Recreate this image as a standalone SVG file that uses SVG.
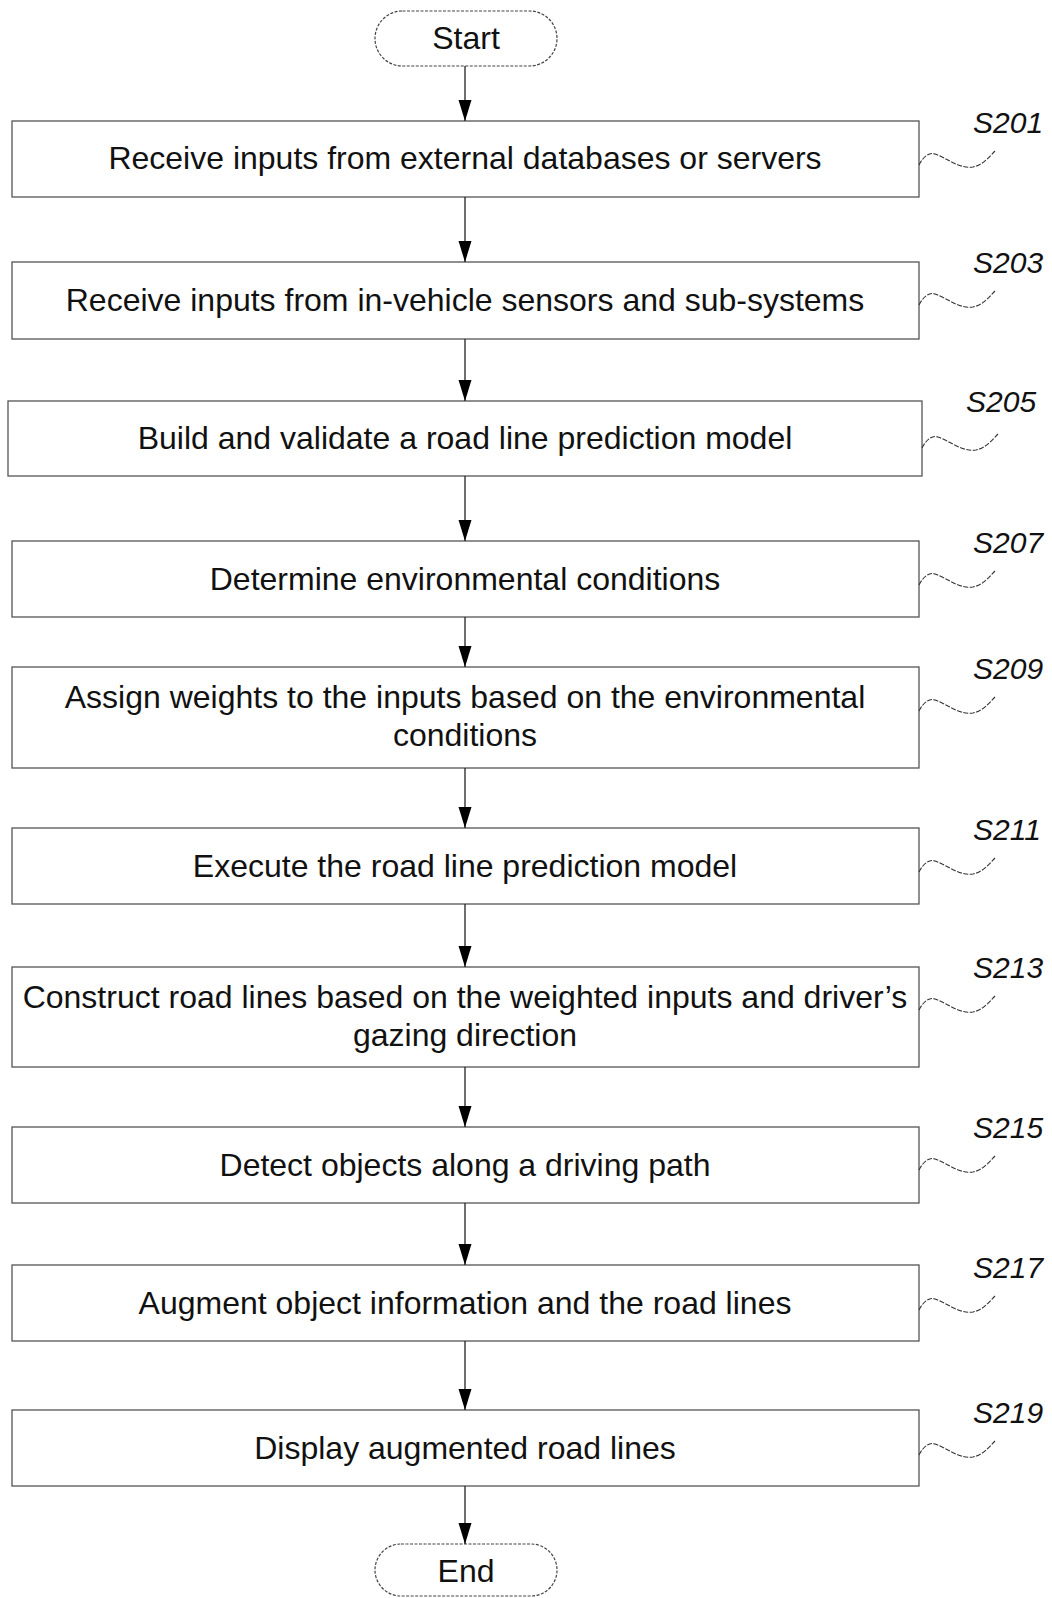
<svg xmlns="http://www.w3.org/2000/svg" width="1052" height="1598" viewBox="0 0 1052 1598">
<style>
.box{fill:#fff;stroke:#555;stroke-width:1.3}
.term{fill:#fff;stroke:#444;stroke-width:1.2;stroke-dasharray:3 1.5}
.t{font-family:"Liberation Sans",Arial,sans-serif;font-size:32px;fill:#111;text-anchor:middle}
.lbl{font-family:"Liberation Sans",Arial,sans-serif;font-size:30px;font-style:italic;fill:#111}
.sq{fill:none;stroke:#333;stroke-width:1.1;stroke-dasharray:5 1.5}
.conn line{stroke:#222;stroke-width:1.3}
</style>
<defs>
<marker id="ah" markerUnits="userSpaceOnUse" markerWidth="22" markerHeight="14" refX="21" refY="6.5" orient="auto">
<path d="M0,0 L21,6.5 L0,13 Z" fill="#000"/>
</marker>
<path id="squig" d="M0,32 C4,24 10,19 16,21 C28,25 40,36 54,34 C64,32 70,24 76,18"/>
</defs>

<g id="start"><rect class="term" x="375" y="11" width="182" height="55" rx="27.5"/><text class="t" x="466" y="49">Start</text></g>

<g id="s201"><rect class="box" x="12" y="121" width="907" height="76"/><text class="t" x="465" y="169">Receive inputs from external databases or servers</text>
<text class="lbl" x="973" y="133">S201</text><use href="#squig" class="sq" x="919" y="133"/></g>

<g id="s203"><rect class="box" x="12" y="262" width="907" height="77"/><text class="t" x="465" y="311">Receive inputs from in-vehicle sensors and sub-systems</text>
<text class="lbl" x="973" y="273">S203</text><use href="#squig" class="sq" x="919" y="273"/></g>

<g id="s205"><rect class="box" x="8" y="401" width="914" height="75"/><text class="t" x="465" y="449">Build and validate a road line prediction model</text>
<text class="lbl" x="966" y="412">S205</text><use href="#squig" class="sq" x="922" y="416"/></g>

<g id="s207"><rect class="box" x="12" y="541" width="907" height="76"/><text class="t" x="465" y="590">Determine environmental conditions</text>
<text class="lbl" x="973" y="553">S207</text><use href="#squig" class="sq" x="919" y="553"/></g>

<g id="s209"><rect class="box" x="12" y="667" width="907" height="101"/><text class="t" x="465" y="708">Assign weights to the inputs based on the environmental</text><text class="t" x="465" y="746">conditions</text>
<text class="lbl" x="973" y="679">S209</text><use href="#squig" class="sq" x="919" y="679"/></g>

<g id="s211"><rect class="box" x="12" y="828" width="907" height="76"/><text class="t" x="465" y="877">Execute the road line prediction model</text>
<text class="lbl" x="973" y="840">S211</text><use href="#squig" class="sq" x="919" y="840"/></g>

<g id="s213"><rect class="box" x="12" y="967" width="907" height="100"/><text class="t" x="465" y="1008">Construct road lines based on the weighted inputs and driver’s</text><text class="t" x="465" y="1046">gazing direction</text>
<text class="lbl" x="973" y="978">S213</text><use href="#squig" class="sq" x="919" y="978"/></g>

<g id="s215"><rect class="box" x="12" y="1127" width="907" height="76"/><text class="t" x="465" y="1176">Detect objects along a driving path</text>
<text class="lbl" x="973" y="1138">S215</text><use href="#squig" class="sq" x="919" y="1138"/></g>

<g id="s217"><rect class="box" x="12" y="1265" width="907" height="76"/><text class="t" x="465" y="1314">Augment object information and the road lines</text>
<text class="lbl" x="973" y="1278">S217</text><use href="#squig" class="sq" x="919" y="1278"/></g>

<g id="s219"><rect class="box" x="12" y="1410" width="907" height="76"/><text class="t" x="465" y="1459">Display augmented road lines</text>
<text class="lbl" x="973" y="1423">S219</text><use href="#squig" class="sq" x="919" y="1423"/></g>

<g id="end"><rect class="term" x="375" y="1544" width="182" height="52" rx="26"/><text class="t" x="466" y="1582">End</text></g>

<g id="connectors" class="conn">
<line x1="465" y1="66" x2="465" y2="121" marker-end="url(#ah)"/>
<line x1="465" y1="197" x2="465" y2="262" marker-end="url(#ah)"/>
<line x1="465" y1="339" x2="465" y2="401" marker-end="url(#ah)"/>
<line x1="465" y1="476" x2="465" y2="541" marker-end="url(#ah)"/>
<line x1="465" y1="617" x2="465" y2="667" marker-end="url(#ah)"/>
<line x1="465" y1="768" x2="465" y2="828" marker-end="url(#ah)"/>
<line x1="465" y1="904" x2="465" y2="967" marker-end="url(#ah)"/>
<line x1="465" y1="1067" x2="465" y2="1127" marker-end="url(#ah)"/>
<line x1="465" y1="1203" x2="465" y2="1265" marker-end="url(#ah)"/>
<line x1="465" y1="1341" x2="465" y2="1410" marker-end="url(#ah)"/>
<line x1="465" y1="1486" x2="465" y2="1544" marker-end="url(#ah)"/>
</g>
</svg>
